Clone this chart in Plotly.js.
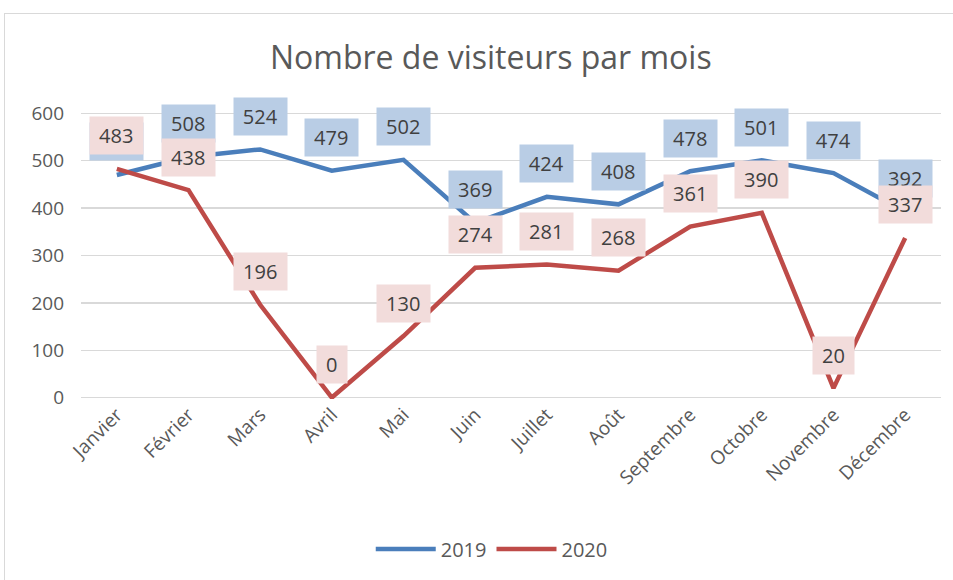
<!DOCTYPE html>
<html><head><meta charset="utf-8">
<script src="https://cdn.plot.ly/plotly-3.0.1.min.js"></script>
<style>
body{margin:0;padding:0;background:#fff;}
#frame{position:absolute;left:4px;top:13px;width:960px;height:580px;border:1px solid #d9d9d9;box-sizing:border-box;}
#chart{position:absolute;left:0;top:0;width:953px;height:580px;}
</style></head>
<body>
<div id="frame"></div>
<div id="chart"></div>
<script>
const months = ["Janvier","Février","Mars","Avril","Mai","Juin","Juillet","Août","Septembre","Octobre","Novembre","Décembre"];
const visitors2019 = [470, 508, 524, 479, 502, 369, 424, 408, 478, 501, 474, 392];
const visitors2020 = [483, 438, 196, 0, 130, 274, 281, 268, 361, 390, 20, 337];

const FONT = "Open Sans, Noto Sans, sans-serif";
const blue = "#4a7ebb", red = "#be4b48";

const traces = [
  {x: months, y: visitors2019, type: "scatter", mode: "lines", name: "2019",
   line: {color: blue, width: 4.5}},
  {x: months, y: visitors2020, type: "scatter", mode: "lines", name: "2020",
   line: {color: red, width: 4.5}}
];

function labels(vals, bg) {
  return vals.map((v, i) => {
    const s = String(v);
    return {x: months[i], y: v, xref: "x", yref: "y", text: s, showarrow: false,
      yshift: 33, bgcolor: bg, width: s.length * 11.5 + 18, height: 37, borderpad: 0,
      font: {family: FONT, size: 20, color: "#404040"}};
  });
}

const layout = {
  width: 953, height: 580,
  paper_bgcolor: "rgba(0,0,0,0)", plot_bgcolor: "rgba(0,0,0,0)",
  margin: {l: 81, r: 12, t: 112, b: 181},
  title: {text: "Nombre de visiteurs par mois", font: {family: FONT, size: 32, color: "#595959"},
    x: 0.515, xref: "container", xanchor: "center", y: 1 - 58/580, yref: "container", yanchor: "middle"},
  xaxis: {type: "category", range: [-0.5, 11.5], tickangle: -45, showgrid: false, showline: false, zeroline: false,
    ticks: "", tickfont: {family: FONT, size: 19, color: "#595959"}},
  yaxis: {range: [-3, 603], tickvals: [0,100,200,300,400,500,600], showgrid: true, gridcolor: "#d9d9d9",
    gridwidth: 1.3, zeroline: false, showline: false, ticks: "", ticklabelstandoff: 16,
    tickfont: {family: FONT, size: 19, color: "#595959"}},
  legend: {orientation: "h", xref: "container", yref: "container", x: 0.516, xanchor: "center",
    y: 1 - 549/580, yanchor: "middle", font: {family: FONT, size: 20, color: "#595959"},
    itemwidth: 60},
  showlegend: true,
  annotations: labels(visitors2019, "#b9cde5").concat(labels(visitors2020, "#f2dcdb"))
};

Plotly.newPlot("chart", traces, layout, {displayModeBar: false, staticPlot: true});
</script>
</body></html>
